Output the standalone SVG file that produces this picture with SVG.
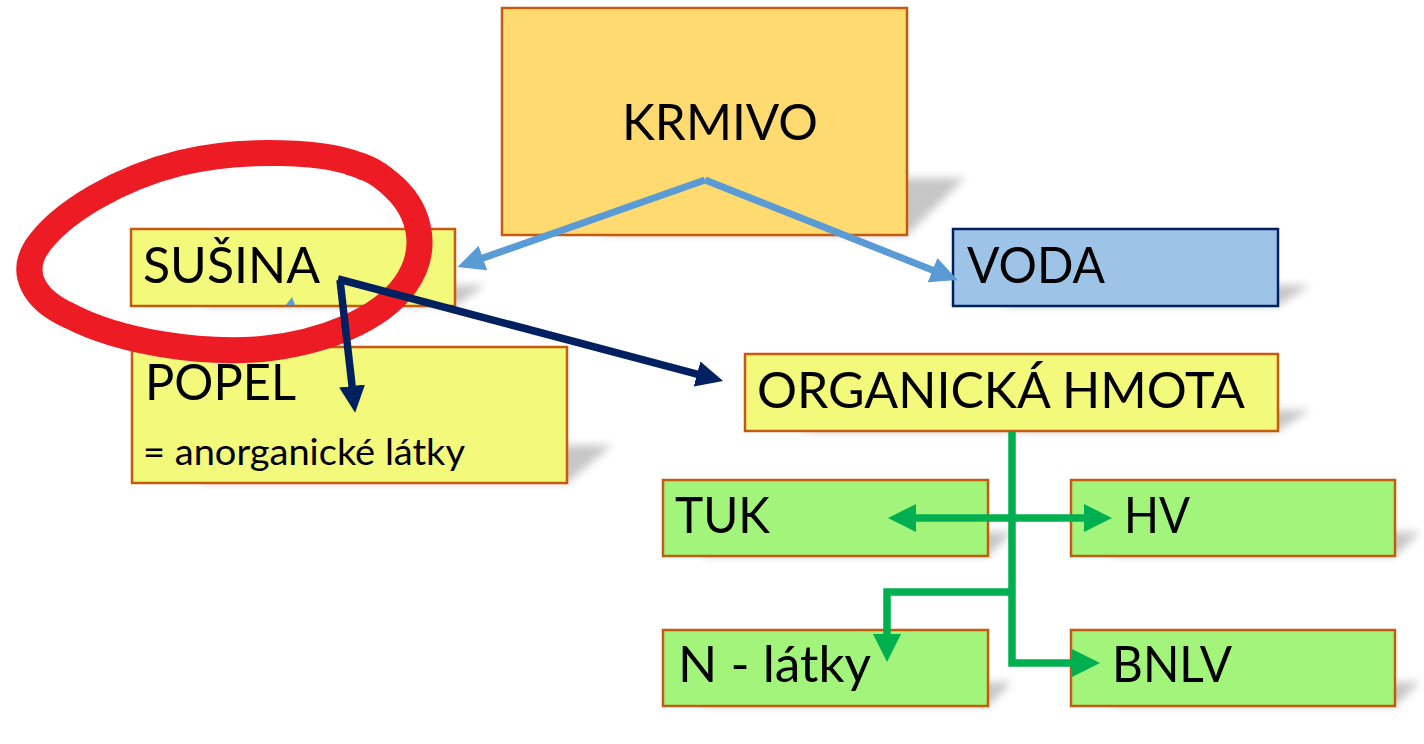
<svg xmlns="http://www.w3.org/2000/svg" width="1424" height="744" viewBox="0 0 1424 744">
<style>
.box{stroke:#C55A11;stroke-width:2.5}
.y{fill:#F3F97B}
.g{fill:#A2F57A}
.t{font-family:Lato,"Liberation Sans",sans-serif;font-size:51px;fill:#000}
.s{font-family:Lato,"Liberation Sans",sans-serif;font-size:37px;fill:#000}
.sh{fill:#000;opacity:0.22;filter:url(#blur)}
.navy{stroke:#002060;stroke-width:7.5;fill:none}
.blue{stroke:#5B9BD5;stroke-width:7;fill:none}
.green{stroke:#00B050;stroke-width:7.5;fill:none}
</style>
<defs>
<filter id="blur" x="-20%" y="-50%" width="140%" height="200%"><feGaussianBlur stdDeviation="4"/></filter>
<marker id="mNavy" markerUnits="userSpaceOnUse" markerWidth="30" markerHeight="30" refX="1" refY="13" orient="auto"><path d="M0,0 L27,13 L0,26 z" fill="#002060"/></marker>
<marker id="mBlue" markerUnits="userSpaceOnUse" markerWidth="30" markerHeight="30" refX="1" refY="13" orient="auto"><path d="M0,0 L27,13 L0,26 z" fill="#5B9BD5"/></marker>
<marker id="mGreen" markerUnits="userSpaceOnUse" markerWidth="32" markerHeight="32" refX="1" refY="14" orient="auto"><path d="M0,0 L28,14 L0,28 z" fill="#00B050"/></marker>
</defs>
<rect width="1424" height="744" fill="#fff"/>
<g id="shadows">
<polygon class="sh" points="600,235 907,235 965,178 660,178"/>
<polygon class="sh" points="200,306 455,306 485,285 230,285"/>
<polygon class="sh" points="1000,306 1278,306 1310,285 1032,285"/>
<polygon class="sh" points="800,431 1278,431 1310,410 832,410"/>
<polygon class="sh" points="200,483 567,483 612,445 245,445"/>
<polygon class="sh" points="700,556 988,556 1012,532 724,532"/>
<polygon class="sh" points="1110,556 1395,556 1420,532 1134,532"/>
<polygon class="sh" points="700,706 988,706 1012,682 724,682"/>
<polygon class="sh" points="1110,706 1395,706 1420,682 1134,682"/>
</g>
<g id="krmivo"><rect class="box" x="502" y="8" width="405" height="227" fill="#FFDA70"/><text class="t" x="622" y="140" textLength="196" lengthAdjust="spacingAndGlyphs">KRMIVO</text></g>
<g id="susina"><rect class="box y" x="131" y="229" width="324" height="77"/><text class="t" x="143" y="283" textLength="177" lengthAdjust="spacingAndGlyphs">SUŠINA</text></g>
<g id="voda"><rect x="953" y="229" width="325" height="77" fill="#9DC3E6" stroke="#002060" stroke-width="2.5"/><text class="t" x="967" y="283" textLength="138" lengthAdjust="spacingAndGlyphs">VODA</text></g>
<g id="popel"><rect class="box y" x="132" y="347" width="435" height="136"/><text class="t" x="145" y="400" textLength="151" lengthAdjust="spacingAndGlyphs">POPEL</text><text class="s" x="143" y="465" textLength="322" lengthAdjust="spacingAndGlyphs">= anorganické látky</text></g>
<g id="organicka"><rect class="box y" x="745" y="354" width="533" height="77"/><text class="t" x="757" y="408" textLength="488" lengthAdjust="spacingAndGlyphs">ORGANICKÁ HMOTA</text></g>
<g id="tuk"><rect class="box g" x="663" y="480" width="325" height="76"/><text class="t" x="675" y="533" textLength="95" lengthAdjust="spacingAndGlyphs">TUK</text></g>
<g id="hv"><rect class="box g" x="1071" y="480" width="324" height="76"/><text class="t" x="1124" y="533" textLength="66" lengthAdjust="spacingAndGlyphs">HV</text></g>
<g id="nlatky"><rect class="box g" x="663" y="630" width="325" height="76"/><text class="t" x="678" y="682" textLength="193" lengthAdjust="spacingAndGlyphs">N - látky</text></g>
<g id="bnlv"><rect class="box g" x="1071" y="630" width="324" height="76"/><text class="t" x="1112" y="682" textLength="120" lengthAdjust="spacingAndGlyphs">BNLV</text></g>
<g id="highlight">
<path d="M365,168 C330,150 240,148 180,163 C120,178 60,212 36,248 C20,274 34,300 70,316 C120,342 200,354 262,349 C322,343 380,320 405,285 C430,250 420,212 395,188 C380,174 370,168 352,163" fill="none" stroke="#ED1C24" stroke-width="26" stroke-linecap="round" stroke-linejoin="round"/>
</g>
<g id="connectors">
<polygon points="286,305 292,297 295,305" fill="#5B9BD5"/>
<path class="blue" d="M705,180 L482,258.4" marker-end="url(#mBlue)"/>
<path class="blue" d="M705,180 L933.5,270.5" marker-end="url(#mBlue)"/>
<path class="navy" d="M338,279 L698,374.3" marker-end="url(#mNavy)"/>
<path class="navy" d="M340,280 L352.2,387" marker-end="url(#mNavy)"/>
<path class="green" d="M1012,431 V663 H1073" marker-end="url(#mGreen)"/>
<path class="green" d="M1012,592 H887 V635" marker-end="url(#mGreen)"/>
<path class="green" d="M1012,518 H1085" marker-end="url(#mGreen)"/>
<path class="green" d="M1012,518 H915" marker-end="url(#mGreen)"/>
</g>
</svg>
